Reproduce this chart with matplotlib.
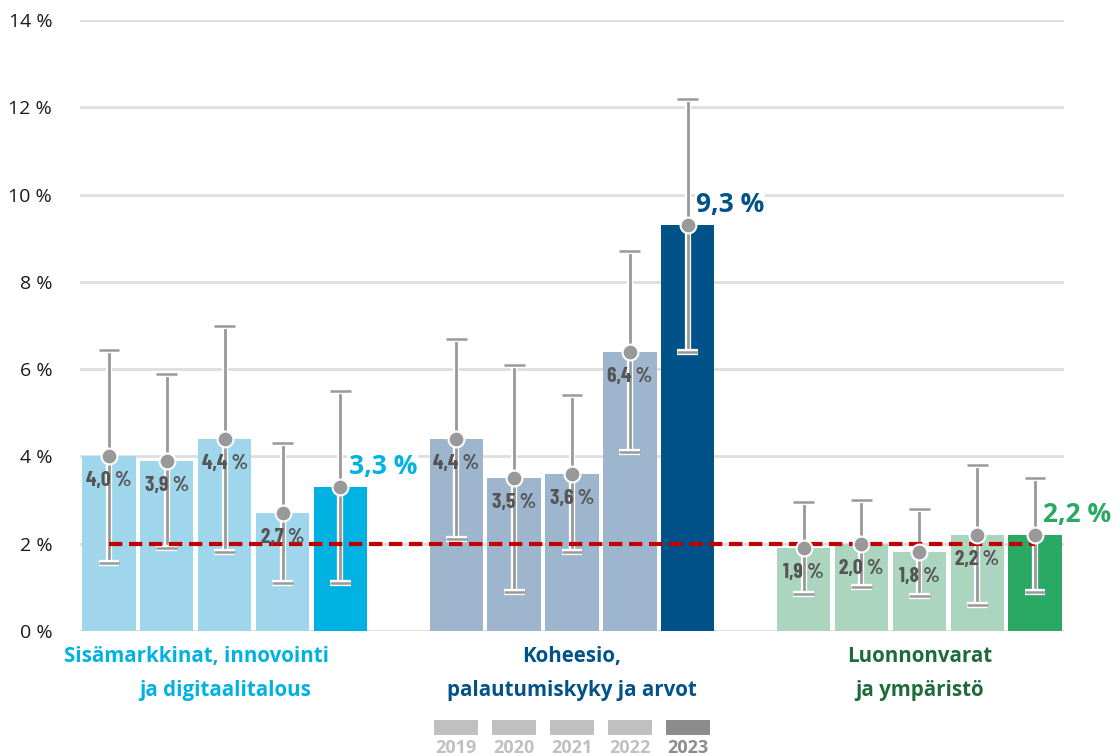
import numpy as np
import matplotlib.pyplot as plt
import matplotlib.patheffects as pe

years = ["2019", "2020", "2021", "2022", "2023"]
groups = ["Sisämarkkinat, innovointi", "ja digitaalitalous",
          "Koheesio,", "palautumiskyky ja arvot",
          "Luonnonvarat", "ja ympäristö"]

values = [[4.0, 3.9, 4.4, 2.7, 3.3],
          [4.4, 3.5, 3.6, 6.4, 9.3],
          [1.9, 2.0, 1.8, 2.2, 2.2]]
upper = [[6.45, 5.9, 7.0, 4.3, 5.5],
         [6.7, 6.1, 5.4, 8.7, 12.2],
         [2.95, 3.0, 2.8, 3.8, 3.5]]
lower = [[1.55, 1.9, 1.8, 1.1, 1.1],
         [2.1, 0.9, 1.8, 4.1, 6.4],
         [0.85, 1.0, 0.8, 0.6, 0.9]]
target = 2.0
yticks = [0, 2, 4, 6, 8, 10, 12, 14]

light = ["#a0d6ec", "#9db6cd", "#acd5bf"]
dark = ["#00b2e2", "#005288", "#2aa965"]
title_col = ["#00b2e2", "#005288", "#1e6b3a"]

def fmt(v):
    return f"{v:.1f} %".replace(".", ",")

fig = plt.figure(figsize=(11.2, 7.56), dpi=100)
ax = fig.add_axes([80/1120, 1-631/756, (1064-80)/1120, 611/756])

narrow = ["Barlow Condensed", "Liberation Sans Narrow", "DejaVu Sans"]
base = ["Open Sans", "DejaVu Sans"]
grey = "#999999"
glow = [pe.withStroke(linewidth=4.5, foreground="white")]

all_x = []
for g in range(3):
    x = np.arange(5) + g * 6
    all_x.extend(x)
    cols = [light[g]] * 4 + [dark[g]]
    ax.bar(x, values[g], width=0.92, color=cols, zorder=2)
    err = [np.array(values[g]) - np.array(lower[g]),
           np.array(upper[g]) - np.array(values[g])]
    eb = ax.errorbar(x, values[g], yerr=err, fmt="none", ecolor=grey,
                     elinewidth=2, capsize=7.5, capthick=1.8, zorder=3)
    for art in list(eb.lines[1]) + list(eb.lines[2]):
        art.set_path_effects(glow)
    ax.scatter(x, values[g], s=130, color=grey, edgecolor="white",
               linewidth=1.5, zorder=6)
    for i in range(4):
        ax.text(x[i], values[g][i] - 0.56, fmt(values[g][i]), ha="center",
                va="center", fontsize=15.5, fontweight="bold", color="#555555",
                family=narrow, zorder=7)
    ax.text(x[4] + 0.14, values[g][4] + 0.47, fmt(values[g][4]), ha="left",
            va="center", fontsize=19, fontweight="bold", color=dark[g],
            family=base, zorder=7,
            bbox=dict(facecolor="white", edgecolor="none", pad=1))

ax.plot([all_x[0], all_x[-1]], [target, target], color="#c00000", lw=3,
        dashes=(3.2, 1.6), zorder=5)

# category titles
xt = ax.get_xaxis_transform()
tpos = [1.52, 2, 8, 8, 14, 14]
for k, txt in enumerate(groups):
    ax.text(tpos[k], -0.041 if k % 2 == 0 else -0.098, txt, transform=xt,
            ha="center", va="center", fontsize=14.8, fontweight="bold",
            color=title_col[k // 2], family=base)

ax.set_xlim(-0.5, 16.5)
ax.set_ylim(0, 14)
ax.set_yticks(yticks)
ax.set_yticklabels([f"{t} %" for t in yticks], family=base, fontsize=14,
                   color="#1a1a1a")
ax.tick_params(axis="y", length=0, pad=20)
ax.set_xticks([])
ax.yaxis.grid(True, color="#dedede", lw=2)
ax.set_axisbelow(True)
for s in ax.spines.values():
    s.set_visible(False)

# legend
lax = fig.add_axes([80/1120, 1-756/756, (1064-80)/1120, 40/756])
lx = np.arange(5) + 6
lcols = ["#c0c0c0"] * 4 + ["#8c8c8c"]
lax.bar(lx, [1] * 5, bottom=1.35, width=0.76, color=lcols)
for i, yr in enumerate(years):
    lax.text(lx[i], 0.5, yr, ha="center", va="center", fontsize=13,
             fontweight="bold", color=lcols[i], family=base)
lax.set_xlim(-0.5, 16.5)
lax.set_ylim(0, 2.6)
lax.axis("off")

fig.savefig("out.png", dpi=100)
